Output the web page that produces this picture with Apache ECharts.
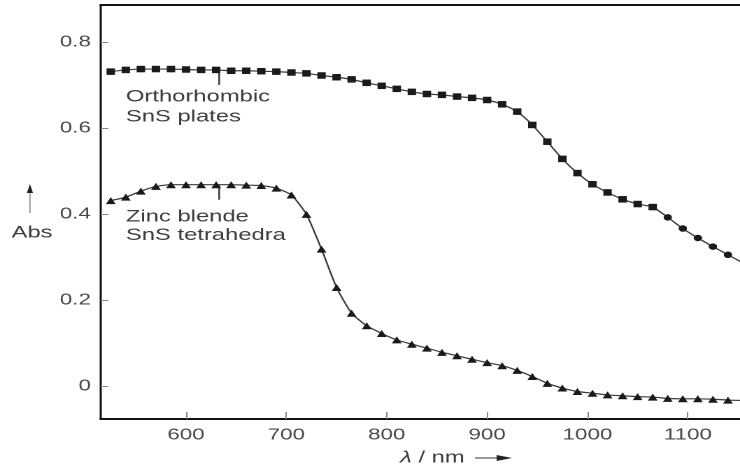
<!DOCTYPE html>
<html>
<head>
<meta charset="utf-8">
<script src="https://cdn.jsdelivr.net/npm/echarts/dist/echarts.min.js"></script>
<style>
  html, body { margin: 0; padding: 0; background: #fff; }
  #wrap { width: 740px; height: 467px; overflow: hidden; }
  /* the original figure is stretched sideways, so draw narrow and widen it */
  #main { width: 529px; height: 467px; transform: scaleX(1.3989); transform-origin: 0 0; }
</style>
</head>
<body>
<div id="wrap"><div id="main"></div></div>
<script>
// wavelength in nm
var wavelengths = [525, 540, 555, 570, 585, 600, 615, 630, 645, 660, 675, 690, 705, 720, 735,
  750, 765, 780, 795, 810, 825, 840, 855, 870, 885, 900, 915, 930, 945, 960, 975, 990, 1005,
  1020, 1035, 1050, 1065, 1080, 1095, 1110, 1125, 1140, 1155];

// orthorhombic SnS plates (squares)
var orthoAbs = [0.731, 0.735, 0.737, 0.737, 0.737, 0.736, 0.735, 0.735, 0.733, 0.733, 0.732,
  0.731, 0.729, 0.727, 0.722, 0.718, 0.713, 0.705, 0.698, 0.691, 0.684, 0.679, 0.677, 0.673,
  0.670, 0.665, 0.655, 0.638, 0.607, 0.568, 0.528, 0.495, 0.469, 0.450, 0.434, 0.423, 0.416,
  0.392, 0.366, 0.344, 0.324, 0.305, 0.286];

// zinc blende SnS tetrahedra (triangles)
var zincAbs = [0.431, 0.439, 0.453, 0.464, 0.468, 0.468, 0.468, 0.468, 0.468, 0.467, 0.466,
  0.460, 0.444, 0.399, 0.318, 0.229, 0.169, 0.140, 0.122, 0.107, 0.097, 0.088, 0.078, 0.070,
  0.062, 0.054, 0.047, 0.036, 0.022, 0.006, -0.005, -0.013, -0.017, -0.021, -0.023, -0.025,
  -0.026, -0.029, -0.030, -0.030, -0.031, -0.033, -0.034];

var xTicks = [600, 700, 800, 900, 1000, 1100];
var yTicks = [0, 0.2, 0.4, 0.6, 0.8];

var font = 'Liberation Sans, Arial, sans-serif';

function pairs(xs, ys) {
  return xs.map(function (x, i) { return [x, ys[i]]; });
}

var chart = echarts.init(document.getElementById('main'), null, { devicePixelRatio: 2 });

var option = {
  animation: false,
  backgroundColor: '#fff',
  grid: { left: 72, right: 0, top: 5, bottom: 48 },
  xAxis: [
    {
      type: 'value',
      min: 515,
      max: 1152,
      splitLine: { show: false },
      axisLine: { onZero: false, lineStyle: { color: '#111', width: 2 } },
      axisTick: { inside: true, length: 7, customValues: xTicks, lineStyle: { color: '#888', width: 1 } },
      axisLabel: {
        customValues: xTicks, margin: 8, fontSize: 16, fontFamily: font, color: '#4a4a4a',
        formatter: function (v) { return String(v); }
      }
    },
    {
      // top frame line
      type: 'value',
      position: 'top',
      min: 515,
      max: 1152,
      splitLine: { show: false },
      axisLine: { onZero: false, lineStyle: { color: '#111', width: 2 } },
      axisTick: { show: false },
      axisLabel: { show: false }
    }
  ],
  yAxis: {
    type: 'value',
    min: -0.077,
    max: 0.886,
    splitLine: { show: false },
    axisLine: { onZero: false, lineStyle: { color: '#111', width: 1.5 } },
    axisTick: { inside: true, length: 5.5, customValues: yTicks, lineStyle: { color: '#888', width: 1 } },
    axisLabel: { customValues: yTicks, margin: 7, fontSize: 16, fontFamily: font, color: '#4a4a4a' }
  },
  series: [
    {
      name: 'Orthorhombic SnS plates',
      type: 'line',
      data: pairs(wavelengths, orthoAbs),
      smooth: 0.2,
      symbol: function (v) { return v[0] >= 1080 ? 'circle' : 'rect'; },
      symbolSize: [6, 6.5],
      lineStyle: { color: '#3a3a3a', width: 1.2 },
      itemStyle: { color: '#1a1a1a' }
    },
    {
      name: 'Zinc blende SnS tetrahedra',
      type: 'line',
      data: pairs(wavelengths, zincAbs),
      smooth: 0.2,
      symbol: 'triangle',
      symbolSize: [7, 7],
      lineStyle: { color: '#3a3a3a', width: 1.2 },
      itemStyle: { color: '#1a1a1a' }
    }
  ]
};

chart.setOption(option);

// annotations: leader ticks, labels, axis titles
var pO = chart.convertToPixel({ gridIndex: 0 }, [633, orthoAbs[7]]);
var pZ = chart.convertToPixel({ gridIndex: 0 }, [633, zincAbs[7]]);
var txt = { fontSize: 17, fontFamily: font, fill: '#3c3c3c', verticalAlign: 'middle' };

function label(x, y, s) {
  return { type: 'text', x: x, y: y, style: Object.assign({ text: s }, txt) };
}

chart.setOption({
  graphic: [
    { type: 'line', shape: { x1: pO[0], y1: pO[1], x2: pO[0], y2: pO[1] + 15 }, style: { stroke: '#333', lineWidth: 1.2 } },
    { type: 'line', shape: { x1: pZ[0], y1: pZ[1], x2: pZ[0], y2: pZ[1] + 15 }, style: { stroke: '#333', lineWidth: 1.2 } },
    label(90, 97, 'Orthorhombic'),
    label(90, 117, 'SnS plates'),
    label(90, 217, 'Zinc blende'),
    label(90, 235.5, 'SnS tetrahedra'),
    // y title with arrow
    {
      type: 'text', x: 22.9, y: 233,
      style: Object.assign({ text: 'Abs', align: 'center' }, txt)
    },
    { type: 'line', shape: { x1: 21.4, y1: 213, x2: 21.4, y2: 191 }, style: { stroke: '#999', lineWidth: 1 } },
    { type: 'polygon', shape: { points: [[21.4, 184], [19.2, 193], [23.6, 193]] }, style: { fill: '#222' } },
    // x title with arrow
    {
      type: 'text', x: 286, y: 458,
      style: {
        text: '{i|λ} / nm',
        fontSize: 17, fontFamily: font, fill: '#3c3c3c', verticalAlign: 'middle',
        rich: { i: { fontStyle: 'italic', fontSize: 17, fontFamily: font, fill: '#3c3c3c' } }
      }
    },
    { type: 'line', shape: { x1: 339.5, y1: 458, x2: 358, y2: 458 }, style: { stroke: '#333', lineWidth: 1 } },
    { type: 'polygon', shape: { points: [[366, 458], [355, 455], [355, 461]] }, style: { fill: '#222' } }
  ]
});

window.addEventListener('resize', function () { chart.resize(); });
</script>
</body>
</html>
